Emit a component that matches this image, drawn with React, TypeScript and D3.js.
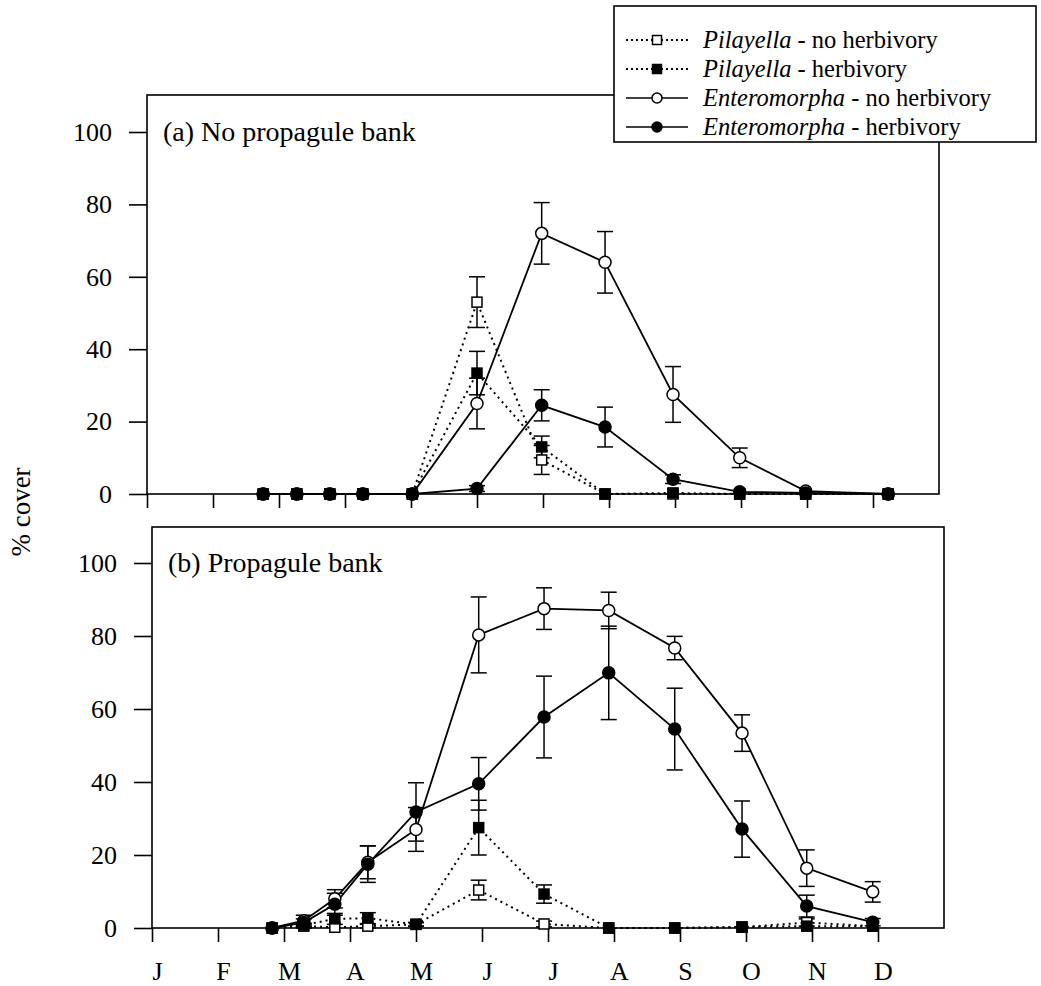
import React, { useEffect, useRef } from 'react';
import * as d3 from 'd3';

const W = 1041;
const H = 986;
const FONT = '"Liberation Serif", "Times New Roman", serif';

const monthLabels = ['J', 'F', 'M', 'A', 'M', 'J', 'J', 'A', 'S', 'O', 'N', 'D'];
const yTicks = [0, 20, 40, 60, 80, 100];

// sampling dates, in months from 1 Jan
const datesA = [1.76, 2.27, 2.77, 3.27, 4.02, 5.0, 5.98, 6.94, 7.97, 8.98, 9.98, 11.23];
const datesB = [1.82, 2.3, 2.77, 3.27, 4.0, 4.95, 5.94, 6.92, 7.92, 8.94, 9.92, 10.92];

// (a) No propagule bank
const pilNoA = [0, 0, 0, 0, 0, 53, 9.4, 0, 0, 0, 0, 0];
const pilNoErrA = [0, 0, 0, 0, 0, 7, 4, 0, 0, 0, 0, 0];
const pilHerbA = [0, 0, 0, 0, 0, 33.4, 13, 0, 0.3, 0, 0, 0];
const pilHerbErrA = [0, 0, 0, 0, 0, 6, 3, 0, 0, 0, 0, 0];
const entNoA = [0, 0, 0, 0, 0, 25, 72, 64, 27.5, 10, 0.8, 0];
const entNoErrA = [0, 0, 0, 0, 0, 7, 8.5, 8.5, 7.7, 2.7, 0, 0];
const entHerbA = [0, 0, 0, 0, 0, 1.5, 24.5, 18.5, 4.1, 0.6, 0.3, 0];
const entHerbErrA = [0, 0, 0, 0, 0, 0.8, 4.3, 5.5, 1.2, 0, 0, 0];

// (b) Propagule bank
const pilNoB = [0, 0.5, 0.2, 0.5, 1, 10.4, 1.1, 0, 0, 0.2, 1.5, 0.5];
const pilNoErrB = [0, 0.5, 0, 0.5, 0.5, 2.7, 0.8, 0, 0, 0, 1, 0];
const pilHerbB = [0, 0.8, 2.5, 2.7, 1, 27.5, 9.3, 0, 0, 0.3, 0.5, 0.5];
const pilHerbErrB = [0, 0.5, 1.5, 1.5, 0.5, 7.5, 2.5, 0, 0, 0, 0, 0];
const entNoB = [0, 2, 8, 18, 27, 80.3, 87.5, 87, 76.7, 53.4, 16.4, 9.9];
const entNoErrB = [0, 1.5, 2.5, 4.5, 6, 10.4, 5.7, 5, 3.2, 5, 5, 2.8];
const entHerbB = [0, 1.5, 6.5, 17.5, 31.8, 39.5, 57.8, 69.9, 54.5, 27.1, 6, 1.6];
const entHerbErrB = [0, 1, 3, 5, 8, 7.2, 11.2, 12.8, 11.2, 7.7, 3, 1];

type Series = { values: number[]; errs: number[]; kind: string };

const panels = [
  {
    title: '(a) No propagule bank', left: 147, right: 939, top: 95, bottom: 494, y100: 132, dates: datesA,
    series: [
      { values: pilNoA, errs: pilNoErrA, kind: 'openSquare' },
      { values: pilHerbA, errs: pilHerbErrA, kind: 'filledSquare' },
      { values: entNoA, errs: entNoErrA, kind: 'openCircle' },
      { values: entHerbA, errs: entHerbErrA, kind: 'filledCircle' },
    ] as Series[],
  },
  {
    title: '(b) Propagule bank', left: 152, right: 944, top: 527, bottom: 928, y100: 563, dates: datesB,
    series: [
      { values: pilNoB, errs: pilNoErrB, kind: 'openSquare' },
      { values: pilHerbB, errs: pilHerbErrB, kind: 'filledSquare' },
      { values: entNoB, errs: entNoErrB, kind: 'openCircle' },
      { values: entHerbB, errs: entHerbErrB, kind: 'filledCircle' },
    ] as Series[],
  },
];

const legendItems = [
  { genus: 'Pilayella', rest: ' - no herbivory', kind: 'openSquare' },
  { genus: 'Pilayella', rest: ' - herbivory', kind: 'filledSquare' },
  { genus: 'Enteromorpha', rest: ' - no herbivory', kind: 'openCircle' },
  { genus: 'Enteromorpha', rest: ' - herbivory', kind: 'filledCircle' },
];

const drawMarker = (g: any, kind: string, x: number, y: number, size: number) => {
  if (kind === 'openSquare' || kind === 'filledSquare') {
    g.append('rect')
      .attr('x', x - size / 2).attr('y', y - size / 2)
      .attr('width', size).attr('height', size)
      .attr('fill', kind === 'filledSquare' ? 'black' : 'white')
      .attr('stroke', 'black').attr('stroke-width', 1.5);
  } else {
    g.append('circle')
      .attr('cx', x).attr('cy', y).attr('r', size / 2)
      .attr('fill', kind === 'filledCircle' ? 'black' : 'white')
      .attr('stroke', 'black').attr('stroke-width', 1.5);
  }
};

const App = () => {
  const svgRef = useRef(null);

  useEffect(() => {
    const svg = d3.select(svgRef.current);
    svg.selectAll('*').remove();
    svg.append('rect').attr('width', W).attr('height', H).attr('fill', 'white');

    panels.forEach((p) => {
      const x = d3.scaleLinear().domain([0, 12]).range([p.left, p.right]);
      const y = d3.scaleLinear().domain([0, 100]).range([p.bottom, p.y100]);
      const g = svg.append('g');

      // frame
      g.append('rect')
        .attr('x', p.left).attr('y', p.top)
        .attr('width', p.right - p.left).attr('height', p.bottom - p.top)
        .attr('fill', 'none').attr('stroke', 'black').attr('stroke-width', 1.6);

      // y axis
      const yAxis = d3.axisLeft(y).tickValues(yTicks).tickSize(18).tickPadding(17);
      const ya = g.append('g').attr('transform', `translate(${p.left},0)`).call(yAxis);
      ya.select('.domain').remove();
      ya.selectAll('line').attr('stroke-width', 1.6);
      ya.selectAll('text').attr('font-family', FONT).attr('font-size', 26).attr('fill', 'black');

      // x axis
      const xAxis = d3.axisBottom(x).tickValues(d3.range(0, 12)).tickSize(14)
        .tickFormat((d: any) => monthLabels[d]).tickPadding(20);
      const xa = g.append('g').attr('transform', `translate(0,${p.bottom})`).call(xAxis);
      xa.select('.domain').remove();
      xa.selectAll('line').attr('stroke-width', 1.6);
      xa.selectAll('text').attr('font-family', FONT).attr('font-size', 26).attr('fill', 'black')
        .attr('dx', 5);
      if (p.title.startsWith('(a)')) xa.selectAll('text').remove();

      g.append('text')
        .attr('x', p.left + 16).attr('y', p.y100 + 9)
        .attr('font-family', FONT).attr('font-size', 28)
        .text(p.title);

      const line = d3.line<number>()
        .x((_, i) => x(p.dates[i]))
        .y((d) => y(d));

      // lines
      p.series.forEach((s) => {
        const dotted = s.kind.includes('Square');
        g.append('path')
          .attr('d', line(s.values))
          .attr('fill', 'none').attr('stroke', 'black')
          .attr('stroke-width', dotted ? 2 : 1.8)
          .attr('stroke-dasharray', dotted ? '2,4' : null);
      });

      // error bars
      p.series.forEach((s) => {
        s.values.forEach((v, i) => {
          const e = s.errs[i];
          if (!e) return;
          const cx = x(p.dates[i]);
          g.append('line').attr('x1', cx).attr('x2', cx)
            .attr('y1', y(v - e)).attr('y2', y(v + e))
            .attr('stroke', 'black').attr('stroke-width', 1.5);
          [v - e, v + e].forEach((ev) => {
            g.append('line').attr('x1', cx - 8).attr('x2', cx + 8)
              .attr('y1', y(ev)).attr('y2', y(ev))
              .attr('stroke', 'black').attr('stroke-width', 1.5);
          });
        });
      });

      // markers
      p.series.forEach((s) => {
        s.values.forEach((v, i) => {
          const size = s.kind.includes('Square') ? 10 : 12;
          drawMarker(g, s.kind, x(p.dates[i]), y(v), size);
        });
      });
    });

    // y label
    svg.append('text')
      .attr('transform', 'translate(30,512) rotate(-90)')
      .attr('text-anchor', 'middle')
      .attr('font-family', FONT).attr('font-size', 27)
      .text('% cover');

    // legend
    const lg = svg.append('g');
    lg.append('rect')
      .attr('x', 614).attr('y', 6).attr('width', 422).attr('height', 136)
      .attr('fill', 'white').attr('stroke', 'black').attr('stroke-width', 1.6);
    legendItems.forEach((it, i) => {
      const cy = 40 + i * 29;
      const dotted = it.kind.includes('Square');
      lg.append('line').attr('x1', 626).attr('x2', 688).attr('y1', cy).attr('y2', cy)
        .attr('stroke', 'black').attr('stroke-width', dotted ? 2 : 1.7)
        .attr('stroke-dasharray', dotted ? '2,3' : null);
      drawMarker(lg, it.kind, 657, cy, dotted ? 9 : 10);
      const t = lg.append('text').attr('x', 703).attr('y', cy + 8)
        .attr('font-family', FONT).attr('font-size', 24.5);
      t.append('tspan').attr('font-style', 'italic').text(it.genus);
      t.append('tspan').text(it.rest);
    });
  }, []);

  return (
    <svg ref={svgRef} width={W} height={H}
      style={{ position: 'absolute', left: 0, top: 0, display: 'block' }} />
  );
};

export default App;
